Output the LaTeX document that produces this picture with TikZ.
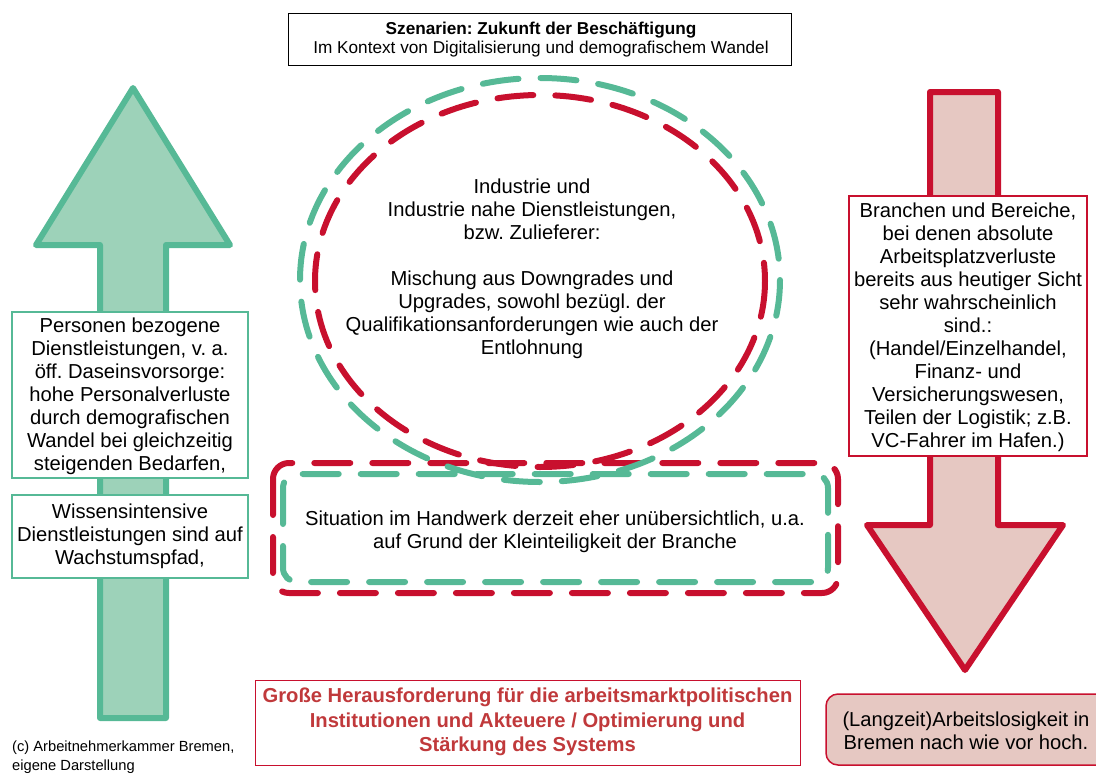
\documentclass[tikz,border=0pt]{standalone}
\usepackage{fontspec}
\setmainfont{Liberation Sans}
\frenchspacing
\definecolor{grn}{HTML}{56B996}
\definecolor{grnfill}{HTML}{9DD2B9}
\definecolor{rd}{HTML}{C8102E}
\definecolor{rdfill}{HTML}{E6C8C2}
\definecolor{rdtext}{HTML}{C0393B}
\tikzset{
  bigarrow/.style={line width=6pt, line join=round},
  dashline/.style={line width=6pt, line cap=round, dash pattern=on 36pt off 22pt},
  txt/.style={align=center, inner sep=0pt, font=\fontsize{20.2}{23}\selectfont},
  gbox/.style={draw=grn, line width=2pt, fill=white, inner sep=0pt},
  rbox/.style={draw=rd, line width=2pt, fill=white, inner sep=0pt},
}
\begin{document}
\frenchspacing
\begin{tikzpicture}[x=1pt,y=-1pt]
\useasboundingbox (0,0) rectangle (1096,774);

% title
\node[draw=black, line width=1pt, minimum width=503pt, minimum height=52pt, inner sep=0pt] (titlebox) at (539.5,39) {};
\node[align=center, inner sep=0pt, font=\fontsize{17.2}{19}\selectfont] (title) at (541,39.5)
  {\textbf{Szenarien: Zukunft der Beschäftigung}\\Im Kontext von Digitalisierung und demografischem Wandel};

% left arrow
\draw[bigarrow, draw=grn, fill=grnfill] (133,88) -- (230,245) -- (166,245) -- (166,718) -- (100,718) -- (100,245) -- (36,245) -- cycle;

% right arrow
\draw[bigarrow, draw=rd, fill=rdfill] (930,92) -- (998,92) -- (998,525) -- (1063,525) -- (965,670) -- (867,525) -- (930,525) -- cycle;

% left boxes
\node[gbox, minimum width=236pt, minimum height=166pt] (lbox1) at (130,395) {};
\node[txt] (ltext1) at (130,396) {Personen bezogene\\Dienstleistungen, v. a.\\öff. Daseinsvorsorge:\\hohe Personalverluste\\durch demografischen\\Wandel bei gleichzeitig\\steigenden Bedarfen,};
\node[gbox, minimum width=236pt, minimum height=83pt] (lbox2) at (130,536.5) {};
\node[txt] (ltext2) at (130,536) {Wissensintensive\\Dienstleistungen sind auf\\Wachstumspfad,};

% right box
\node[rbox, minimum width=238pt, minimum height=260pt] (rbox) at (968,326) {};
\node[txt] (rtext) at (968,327) {Branchen und Bereiche,\\bei denen absolute\\Arbeitsplatzverluste\\bereits aus heutiger Sicht\\sehr wahrscheinlich\\sind.:\\(Handel/Einzelhandel,\\Finanz- und\\Versicherungswesen,\\Teilen der Logistik; z.B.\\VC-Fahrer im Hafen.)};

% dashed rounded rects
\draw[dashline, rd, rounded corners=16pt] (273,463) rectangle (838,593);
\draw[dashline, grn, rounded corners=14pt] (283,474) rectangle (828,582);
\node[txt] (hand) at (555,531.5) {Situation im Handwerk derzeit eher unübersichtlich, u.a.\\auf Grund der Kleinteiligkeit der Branche};

% dashed ellipses
\draw[dashline, rd] (540,281) ellipse [x radius=225, y radius=186];
\draw[dashline, grn] (540,280) ellipse [x radius=240, y radius=202];
\node[txt] (ind) at (532,269) {Industrie und\\Industrie nahe Dienstleistungen,\\bzw. Zulieferer:\\[23pt]Mischung aus Downgrades und\\Upgrades, sowohl bezügl. der\\Qualifikationsanforderungen wie auch der\\Entlohnung};

% bottom center
\node[draw=rd, line width=1pt, minimum width=545pt, minimum height=85pt, inner sep=0pt] (cbox) at (527.5,722.5) {};
\node[txt, text=rdtext, font=\fontsize{20.2}{24.5}\selectfont\bfseries] (ctext) at (527.5,722) {Große Herausforderung für die arbeitsmarktpolitischen\\Institutionen und Akteuere / Optimierung und\\Stärkung des Systems};

% bottom right
\draw[draw=rd, line width=1.5pt, fill=rdfill, rounded corners=12pt] (826,694) rectangle (1110,765);
\node[txt] (brtext) at (966,731) {(Langzeit)Arbeitslosigkeit in\\Bremen nach wie vor hoch.};

% copyright
\node[anchor=north west, align=left, inner sep=0pt, font=\fontsize{14.7}{19}\selectfont] (copy) at (12,741) {(c) Arbeitnehmerkammer Bremen,\\eigene Darstellung};
\end{tikzpicture}
\end{document}
